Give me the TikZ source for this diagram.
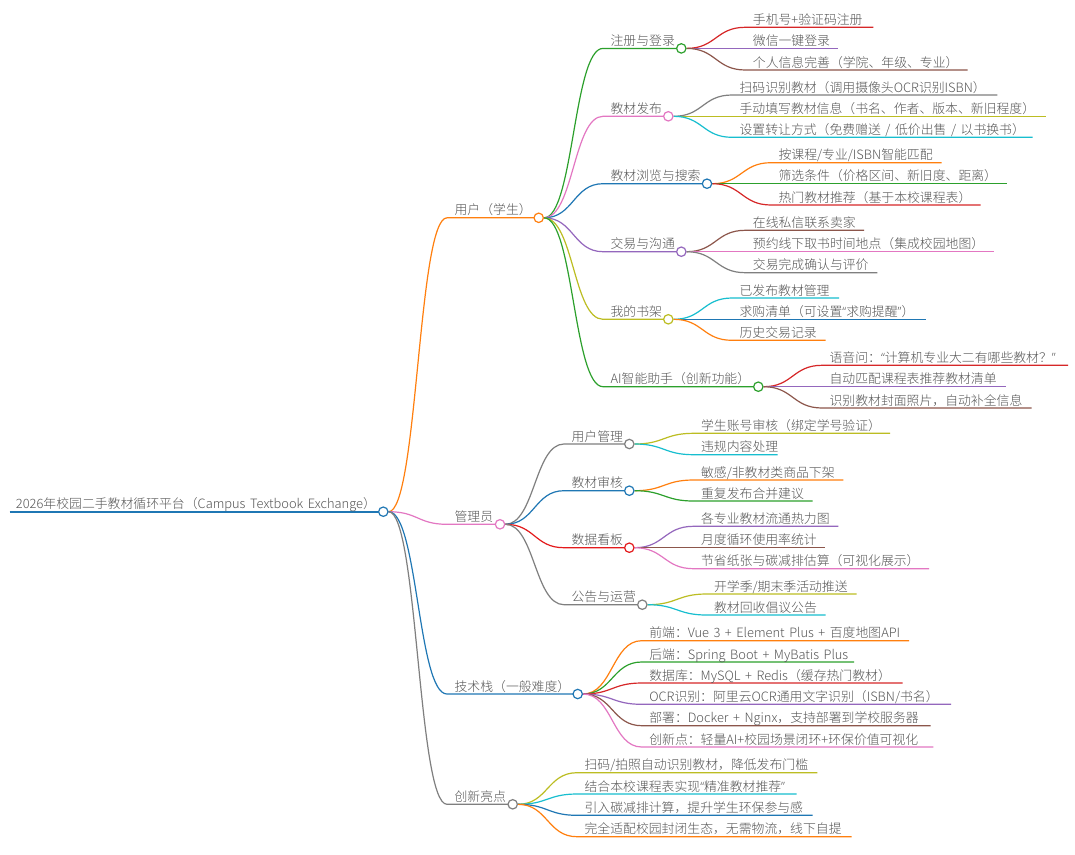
\documentclass[tikz,border=0pt]{standalone}
\usepackage{fontspec}
\setmainfont{Noto Sans CJK SC Light}[WordSpace=1.6]
\newfontfamily\qf{Open Sans Light}
\usetikzlibrary{calc}
\pgfdeclarelayer{bg}
\pgfsetlayers{bg,main}
\definecolor{cblue}{HTML}{1F77B4}
\definecolor{corange}{HTML}{FF7F0E}
\definecolor{cgreen}{HTML}{2CA02C}
\definecolor{cred}{HTML}{D62728}
\definecolor{cbred}{HTML}{E41A1C}
\definecolor{cpurple}{HTML}{9467BD}
\definecolor{cbrown}{HTML}{8C564B}
\definecolor{cpink}{HTML}{E377C2}
\definecolor{cgray}{HTML}{7F7F7F}
\definecolor{colive}{HTML}{BCBD22}
\definecolor{ccyan}{HTML}{17BECF}
\definecolor{ctext}{HTML}{555555}
\tikzset{
  x=1pt,y=-1pt,
  hubdot/.style={circle,inner sep=0pt,minimum size=9.4pt,line width=1.2pt,fill=white},
  lab/.style={anchor=base west,inner sep=0pt,outer sep=0pt,text=ctext,font=\fontsize{12.85}{14}\selectfont},
  link/.style={line width=1.2pt},
}
\newcommand{\ql}{{\qf “}}
\newcommand{\qr}{{\qf ”}}
% id, parent, colour, line start x, circle x, y, text
\newcommand{\hubnode}[7]{%
  \coordinate (#1-s) at (#4,#6);
  \node[hubdot,draw=#3] (#1) at (#5,#6) {};
  \node[lab] (#1-t) at (#4+7.6,#6-3) {#7};
  \begin{pgfonlayer}{bg}
    \draw[link,#3] (#2.east) .. controls ($(#2.east)!.5!(#1-s |- #2.east)$) and ($(#1-s)!.5!(#2.east |- #1-s)$) .. (#1-s) -- (#1.center);
  \end{pgfonlayer}
}
% id, parent, colour, line start x, end x, y, text
\newcommand{\leafnode}[7]{%
  \coordinate (#1-s) at (#4,#6);
  \coordinate (#1-e) at (#5,#6);
  \node[lab] (#1-t) at (#4+7.6,#6-3) {#7};
  \begin{pgfonlayer}{bg}
    \draw[link,#3] (#2.east) .. controls ($(#2.east)!.5!(#1-s |- #2.east)$) and ($(#1-s)!.5!(#2.east |- #1-s)$) .. (#1-s) -- (#1-e);
  \end{pgfonlayer}
}
\begin{document}
\begin{tikzpicture}
\useasboundingbox (0,0) rectangle (1075,854);
\begin{pgfonlayer}{bg}
  \fill[white] (0,0) rectangle (1075,854);
\end{pgfonlayer}
% root
\coordinate (root-s) at (9.5,511.7);
\node[hubdot,draw=cblue] (root) at (383.3,511.7) {};
\node[lab] (root-t) at (16,508.7) {2026年校园二手教材循环平台（Campus Textbook Exchange）};
\begin{pgfonlayer}{bg}
  \draw[line width=1.7pt,cblue] (root-s) -- (root.center);
\end{pgfonlayer}
% level 1
\hubnode{u}{root}{corange}{447}{538.7}{217.8}{用户（学生）}
\hubnode{a}{root}{cpink}{447}{500}{524.3}{管理员}
\hubnode{t}{root}{cblue}{447}{577.7}{694}{技术栈（一般难度）}
\hubnode{i}{root}{cgray}{447}{512.7}{804.3}{创新亮点}
% user children
\hubnode{u1}{u}{cgreen}{603}{681.3}{48.4}{注册与登录}
\leafnode{u11}{u1}{cred}{745.3}{873.3}{27.3}{手机号+验证码注册}
\leafnode{u12}{u1}{cpurple}{745.3}{838.3}{48.4}{微信一键登录}
\leafnode{u13}{u1}{cbrown}{745.3}{967.7}{70}{个人信息完善（学院、年级、专业）}
\hubnode{u2}{u}{cpink}{603}{668.3}{116.3}{教材发布}
\leafnode{u21}{u2}{cgray}{732}{997.3}{95}{扫码识别教材（调用摄像头OCR识别ISBN）}
\leafnode{u22}{u2}{colive}{732}{1046}{116.3}{手动填写教材信息（书名、作者、版本、新旧程度）}
\leafnode{u23}{u2}{ccyan}{732}{1032.7}{137.3}{设置转让方式（免费赠送 / 低价出售 / 以书换书）}
\hubnode{u3}{u}{cblue}{603}{707}{183.7}{教材浏览与搜索}
\leafnode{u31}{u3}{corange}{771}{941.7}{162.7}{按课程/专业/ISBN智能匹配}
\leafnode{u32}{u3}{cgreen}{771}{1007}{183.7}{筛选条件（价格区间、新旧度、距离）}
\leafnode{u33}{u3}{cred}{771}{980.7}{205}{热门教材推荐（基于本校课程表）}
\hubnode{u4}{u}{cpurple}{603}{681.3}{251.7}{交易与沟通}
\leafnode{u41}{u4}{cbrown}{745.3}{864}{230.3}{在线私信联系卖家}
\leafnode{u42}{u4}{cpink}{745.3}{993.7}{251.7}{预约线下取书时间地点（集成校园地图）}
\leafnode{u43}{u4}{cgray}{745.3}{877.3}{272.7}{交易完成确认与评价}
\hubnode{u5}{u}{colive}{603}{668.3}{319.3}{我的书架}
\leafnode{u51}{u5}{ccyan}{732}{839}{298}{已发布教材管理}
\leafnode{u52}{u5}{cblue}{732}{925.7}{319.3}{求购清单（可设置\ql 求购提醒\qr ）}
\leafnode{u53}{u5}{corange}{732}{825.7}{340.3}{历史交易记录}
\hubnode{u6}{u}{cgreen}{603}{758.3}{386.7}{AI智能助手（创新功能）}
\leafnode{u61}{u6}{cred}{822}{1068}{365.3}{语音问：\ql 计算机专业大二有哪些教材？\qr}
\leafnode{u62}{u6}{cpurple}{822}{1006}{386.7}{自动匹配课程表推荐教材清单}
\leafnode{u63}{u6}{cbrown}{822}{1031.7}{408}{识别教材封面照片，自动补全信息}
% admin children
\hubnode{a1}{a}{cgray}{564}{629.3}{444}{用户管理}
\leafnode{a11}{a1}{colive}{693.5}{890}{433.3}{学生账号审核（绑定学号验证）}
\leafnode{a12}{a1}{ccyan}{693.5}{777.7}{454.7}{违规内容处理}
\hubnode{a2}{a}{cblue}{564}{629.3}{490.7}{教材审核}
\leafnode{a21}{a2}{corange}{693.5}{843.3}{480}{敏感/非教材类商品下架}
\leafnode{a22}{a2}{cgreen}{693.5}{812.7}{501}{重复发布合并建议}
\hubnode{a3}{a}{cbred}{564}{629.3}{547.7}{数据看板}
\leafnode{a31}{a3}{cpurple}{693.5}{838.3}{526.3}{各专业教材流通热力图}
\leafnode{a32}{a3}{cbrown}{693.5}{825.3}{547.7}{月度循环使用率统计}
\leafnode{a33}{a3}{cpink}{693.5}{929}{568.7}{节省纸张与碳减排估算（可视化展示）}
\hubnode{a4}{a}{cgray}{564}{642.3}{604.7}{公告与运营}
\leafnode{a41}{a4}{colive}{706.5}{856.7}{594}{开学季/期末季活动推送}
\leafnode{a42}{a4}{ccyan}{706.5}{825.7}{615}{教材回收倡议公告}
% tech children
\leafnode{t1}{t}{corange}{641.7}{909}{640.7}{前端：Vue 3 + Element Plus + 百度地图API}
\leafnode{t2}{t}{cgreen}{641.7}{854}{662}{后端：Spring Boot + MyBatis Plus}
\leafnode{t3}{t}{cred}{641.7}{902.7}{683}{数据库：MySQL + Redis（缓存热门教材）}
\leafnode{t4}{t}{cpurple}{641.7}{951}{704.3}{OCR识别：阿里云OCR通用文字识别（ISBN/书名）}
\leafnode{t5}{t}{cbrown}{641.7}{930.7}{725.7}{部署：Docker + Nginx，支持部署到学校服务器}
\leafnode{t6}{t}{cpink}{641.7}{933.3}{747}{创新点：轻量AI+校园场景闭环+环保价值可视化}
% innovation children
\leafnode{i1}{i}{colive}{577}{817.3}{772.7}{扫码/拍照自动识别教材，降低发布门槛}
\leafnode{i2}{i}{ccyan}{577}{796.7}{794}{结合本校课程表实现\ql 精准教材推荐\qr}
\leafnode{i3}{i}{cblue}{577}{812.7}{815.3}{引入碳减排计算，提升学生环保参与感}
\leafnode{i4}{i}{corange}{577}{851.7}{836.7}{完全适配校园封闭生态，无需物流，线下自提}
\end{tikzpicture}
\end{document}
